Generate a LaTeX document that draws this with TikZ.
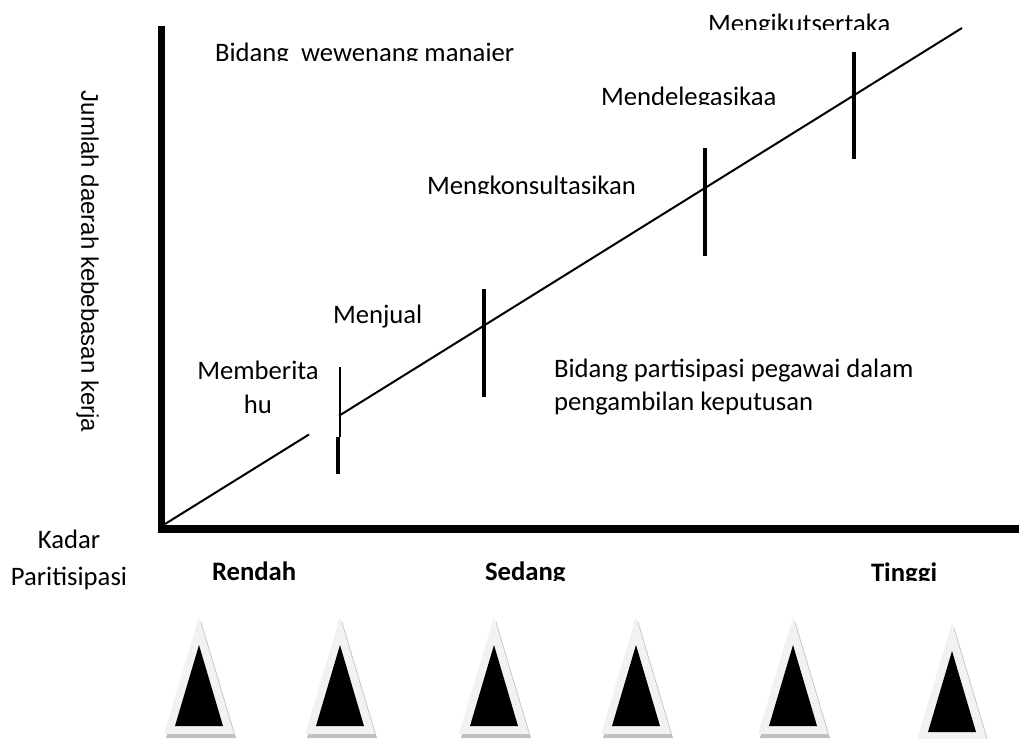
\documentclass[tikz,border=0pt]{standalone}
\usepackage{fontspec}
\setmainfont{Carlito}
\newfontfamily\arialf{Liberation Sans}
\definecolor{triout}{HTML}{F2F2F2}
\definecolor{trishadow}{HTML}{BFBFBF}
\begin{document}
\begin{tikzpicture}[x=0.75pt,y=-0.75pt,
  lbl/.style={inner sep=0pt, outer sep=0pt, font=\fontsize{20pt}{25pt}\selectfont},
  blbl/.style={inner sep=0pt, outer sep=0pt, font=\fontsize{20pt}{25pt}\selectfont\bfseries},
  axisline/.style={line width=5.5pt, line cap=butt},
  tickline/.style={line width=2.3pt},
  thintick/.style={line width=1.1pt},
  diagline/.style={line width=1.5pt},
  outertri/.style={fill=triout},
  innertri/.style={fill=black},
  shadowtri/.style={fill=trishadow}]
\useasboundingbox[fill=white] (0,0) rectangle (1019,738);

% axes
\coordinate (vtop) at (161.5,26);
\coordinate (vbot) at (161.5,532);
\coordinate (hleft) at (158,528.5);
\coordinate (hright) at (1025,528.5);
\draw[axisline] (vtop) -- (vbot);
\draw[axisline, line width=6pt] (hleft) -- (hright);

% diagonal
\coordinate (O) at (165,524);
\coordinate (gapA) at (309,434.5);
\coordinate (gapB) at (339,415.8);
\coordinate (dtop) at (962,28);
\draw[diagline] (O) -- (gapA);
\draw[diagline] (gapB) -- (dtop);

% ticks
\coordinate (t1a) at (340,367);
\coordinate (t1b) at (340,437);
\coordinate (t1c) at (338,437);
\coordinate (t1d) at (338,474);
\draw[thintick] (t1a) -- (t1b);
\draw[tickline] (t1c) -- (t1d);
\coordinate (t2a) at (484,289);
\coordinate (t2b) at (484,397);
\draw[tickline] (t2a) -- (t2b);
\coordinate (t3a) at (705,148);
\coordinate (t3b) at (705,256);
\draw[tickline] (t3a) -- (t3b);
\coordinate (t4a) at (854,52);
\coordinate (t4b) at (854,159);
\draw[tickline] (t4a) -- (t4b);

% labels inside plot
\begin{scope}
\clip (0,0) rectangle (1019,61);
\node[lbl, anchor=base west] (bwm) at (215,62) {Bidang\ \ wewenang manajer};
\end{scope}
\begin{scope}
\clip (0,0) rectangle (1019,30);
\node[lbl, anchor=base west] (mik) at (708,33) {Mengikutsertaka};
\end{scope}
\begin{scope}
\clip (0,0) rectangle (1019,105);
\node[lbl, anchor=base west] (mdl) at (601,106) {Mendelegasikaa};
\end{scope}
\begin{scope}
\clip (0,0) rectangle (1019,193);
\node[lbl, anchor=base west] (mks) at (427,194) {Mengkonsultasikan};
\end{scope}
\node[lbl, anchor=base west] (mjl) at (333,323) {Menjual};
\node[lbl, anchor=base] (mb1) at (258,379) {Memberita};
\node[lbl, anchor=base] (mb2) at (258,413) {hu};
\node[lbl, anchor=base west] (bp1) at (554,377) {Bidang partisipasi pegawai dalam};
\node[lbl, anchor=base west] (bp2) at (554,410) {pengambilan keputusan};

% axis labels
\node[inner sep=0pt, rotate=-90, font=\arialf\fontsize{18pt}{22pt}\selectfont] (ylab) at (87.5,261.5) {Jumlah daerah kebebasan kerja};
\node[lbl, anchor=base] (kadar) at (69,548) {Kadar};
\node[lbl, anchor=base] (parti) at (69,585) {Paritisipasi};
\node[blbl, anchor=base west] (rendah) at (212,580) {Rendah};
\begin{scope}
\clip (0,0) rectangle (1019,580);
\node[blbl, anchor=base west] (sedang) at (485,580.5) {Sedang};
\node[blbl, anchor=base west] (tinggi) at (871,581.5) {Tinggi};
\end{scope}

% triangles
\foreach \c/\t in {199/0, 340/0, 494/0, 636/0, 793/0, 952/6}{
  \fill[shadowtri] (\c+2,617+\t+4) -- (\c-33,734+\t+4) -- (\c+37,734+\t+4) -- cycle;
  \fill[outertri] (\c,617+\t) -- (\c-35,734+\t) -- (\c+35,734+\t) -- cycle;
  \fill[innertri] (\c,645+\t) -- (\c-24,726+\t) -- (\c+24,726+\t) -- cycle;
}
\end{tikzpicture}
\end{document}
